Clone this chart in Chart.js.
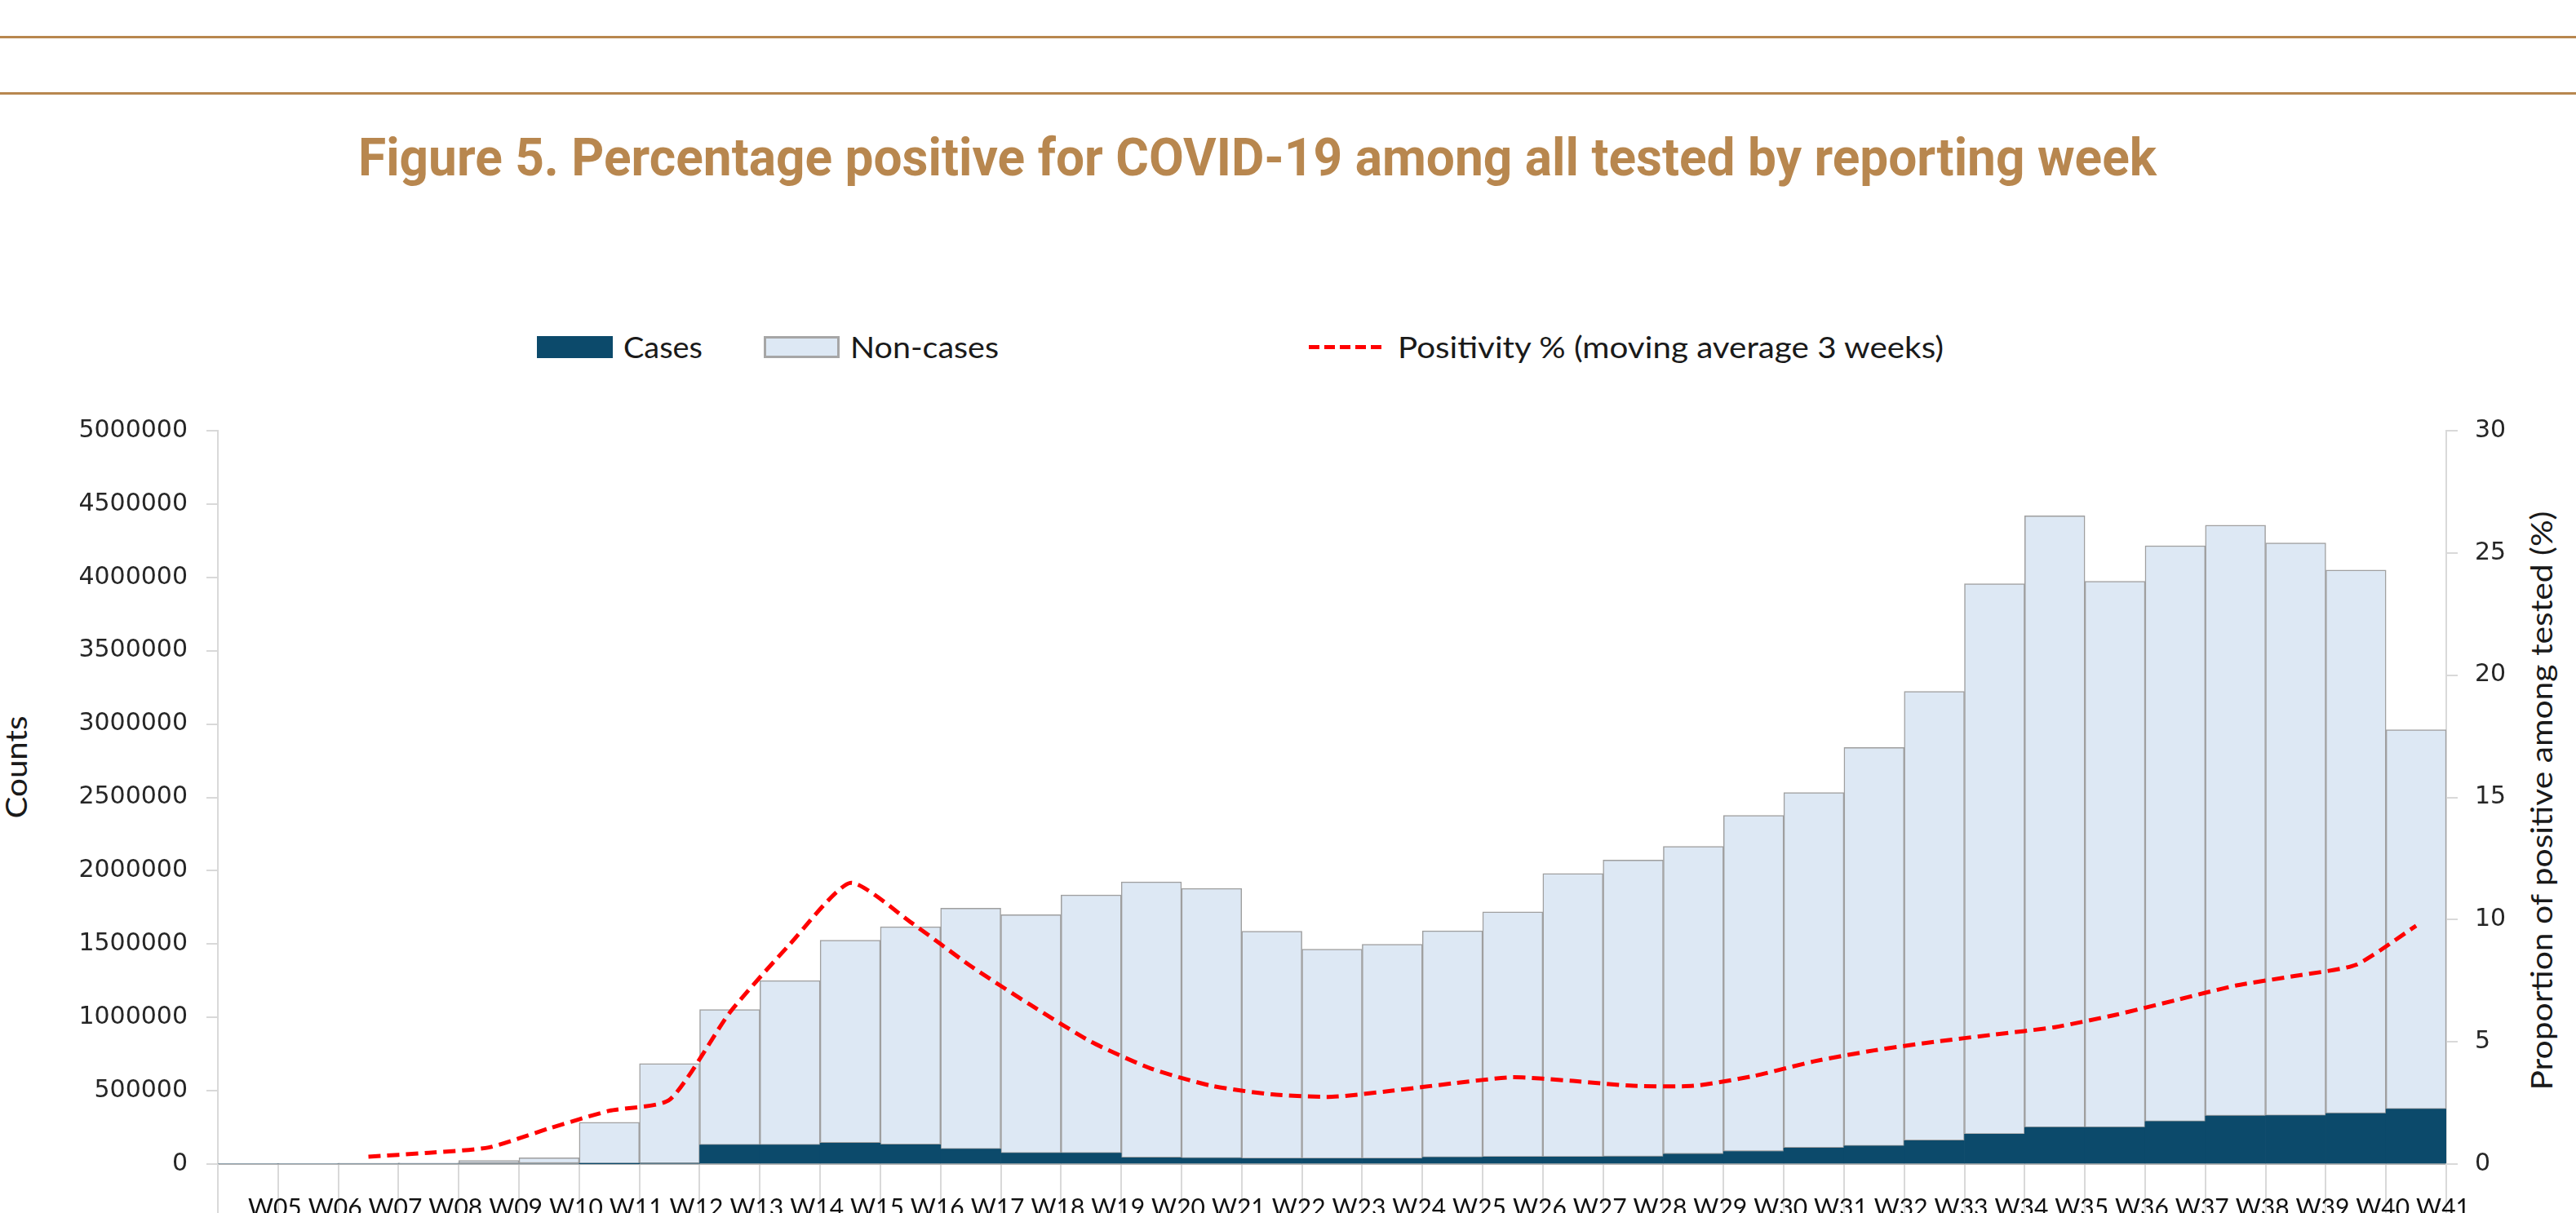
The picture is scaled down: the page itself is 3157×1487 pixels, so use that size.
<!DOCTYPE html>
<html><head><meta charset="utf-8">
<script src="https://cdn.jsdelivr.net/npm/chart.js@4.4.0/dist/chart.umd.min.js"></script>
<style>
html,body{margin:0;padding:0;background:#fff;overflow:hidden;width:3157px;height:1487px;}
#wrap{position:relative;width:3157px;height:1487px;overflow:hidden;}
canvas{position:absolute;left:0;top:0;}
.hr{position:absolute;left:0;width:3157px;height:3px;background:#b8874f;}
.txt{position:absolute;white-space:nowrap;line-height:1;transform-origin:0 0;}
.leg{font-family:Lato,'Open Sans',sans-serif;font-size:36px;color:#1a1a1a;}
.box{position:absolute;box-sizing:border-box;}
</style></head>
<body><div id="wrap">
<div class="hr" style="top:44px"></div>
<div class="hr" style="top:113px"></div>
<div id="title" class="txt" style="left:439px;top:162px;font-family:Roboto,sans-serif;font-weight:700;font-size:64px;color:#b8874f;">Figure 5. Percentage positive for COVID-19 among all tested by reporting week</div>

<div class="box" style="left:658px;top:412px;width:93px;height:27px;background:#0c4a6b;"></div>
<div id="lg1" class="txt leg" style="left:764px;top:407px;">Cases</div>
<div class="box" style="left:936px;top:412px;width:93px;height:27px;background:#dde8f4;border:3px solid #a6a6a6;"></div>
<div id="lg2" class="txt leg" style="left:1042px;top:407px;">Non-cases</div>
<div class="box" style="left:1604px;top:423px;width:93px;height:5px;background:repeating-linear-gradient(90deg,#ff0000 0 13px,transparent 13px 19px);"></div>
<div id="lg3" class="txt leg" style="left:1713px;top:407px;">Positivity % (moving average 3 weeks)</div>

<div id="ytl" class="txt leg" style="font-size:37px;">Counts</div>
<div id="ytr" class="txt leg" style="font-size:37px;">Proportion of positive among tested (%)</div>

<canvas id="c" width="3157" height="1487"></canvas>
</div>
<script>
// ---- data ----
const weeks = ['W05','W06','W07','W08','W09','W10','W11','W12','W13','W14','W15','W16','W17','W18','W19','W20','W21','W22','W23','W24','W25','W26','W27','W28','W29','W30','W31','W32','W33','W34','W35','W36','W37','W38','W39','W40','W41'];
const cases = [0,0,0,0,0,0,2000,5000,130000,130000,143000,132000,102000,74000,74000,43000,40000,37000,37000,37000,45000,48000,48000,50000,68000,86000,110000,123000,160000,204000,250000,250000,290000,328000,330000,345000,375000];
const nonCases = [5000,5000,6000,8000,25000,43000,283000,680000,923000,1121000,1383000,1486000,1643000,1626000,1761000,1881000,1839000,1551000,1428000,1462000,1545000,1671000,1933000,2023000,2098000,2291000,2423000,2717000,3063000,3753000,4170000,3723000,3926000,4028000,3905000,3705000,2586000];
const positivity = [null,null,0.3,0.46,0.68,1.46,2.18,2.63,6.2,9.0,11.5,9.9,8.1,6.5,5.0,3.9,3.2,2.85,2.75,3.0,3.3,3.55,3.4,3.2,3.2,3.6,4.2,4.65,5.0,5.3,5.6,6.1,6.7,7.3,7.7,8.15,9.75];
const countTickMax = 5000000, countTickStep = 500000;
const pctTickMax = 30, pctTickStep = 5;

// ---- text fitting ----
function fit(id, w){ const el=document.getElementById(id); const r=el.getBoundingClientRect().width; el.style.transform='scaleX('+(w/r)+')'; }
fit('title',2204); fit('lg1',97); fit('lg2',182); fit('lg3',669);
function vtitle(id, cx, cy, len){
  const el=document.getElementById(id);
  const w=el.getBoundingClientRect().width, h=el.getBoundingClientRect().height;
  const s=len/w;
  el.style.left=(cx - w/2)+'px'; el.style.top=(cy - h/2)+'px';
  el.style.transformOrigin='50% 50%';
  el.style.transform='rotate(-90deg) scaleX('+s+')';
}
vtitle('ytl', 19, 940, 126);
vtitle('ytr', 3113, 981, 710);

const tickFont = {family:'DejaVu Sans', size:30};
new Chart(document.getElementById('c'), {
  type:'bar',
  data:{
    labels: weeks,
    datasets:[
      {type:'line', label:'Positivity % (moving average 3 weeks)', data:positivity, yAxisID:'y1', borderColor:'#ff0000', backgroundColor:'#ff0000', borderWidth:5, borderDash:[15,8], pointRadius:0, tension:0.2, fill:false, order:0},
      {label:'Cases', data:cases, yAxisID:'y', backgroundColor:'#0c4a6b', borderWidth:0, order:1},
      {label:'Non-cases', data:nonCases, yAxisID:'y', backgroundColor:'#dde8f4', borderColor:'#9f9f9f', borderWidth:1.5, borderSkipped:false, order:1}
    ]
  },
  options:{
    responsive:false, animation:false, devicePixelRatio:1,
    layout:{padding:{top:528,left:0,right:0,bottom:0}},
    plugins:{legend:{display:false}, tooltip:{enabled:false}, title:{display:false}},
    datasets:{bar:{barPercentage:1, categoryPercentage:1}},
    scales:{
      x:{stacked:true, offset:true,
        grid:{offset:true, drawOnChartArea:false, drawTicks:true, tickLength:60, color:'#d9d9d9', lineWidth:2},
        border:{display:true, color:'#b3b3b3', width:2},
        ticks:{font:{family:'Lato', size:30}, color:'#111111', padding:-24, maxRotation:0, minRotation:0, autoSkip:false, align:'start'},
        afterFit:s=>{s.height=60;}},
      y:{stacked:true, position:'left', min:0, max:countTickMax,
        ticks:{stepSize:countTickStep, font:tickFont, color:'#262626', padding:23, callback:v=>String(v)},
        grid:{drawOnChartArea:false, tickLength:14, color:'#d9d9d9', lineWidth:2},
        border:{display:true, color:'#d9d9d9', width:2},
        afterFit:s=>{s.width=267;}},
      y1:{position:'right', min:0, max:pctTickMax,
        ticks:{stepSize:pctTickStep, font:tickFont, color:'#262626', padding:21, callback:v=>String(v)},
        grid:{drawOnChartArea:false, tickLength:14, color:'#d9d9d9', lineWidth:2},
        border:{display:true, color:'#d9d9d9', width:2},
        afterFit:s=>{s.width=159;}}
    }
  }
});
</script>
</body></html>
